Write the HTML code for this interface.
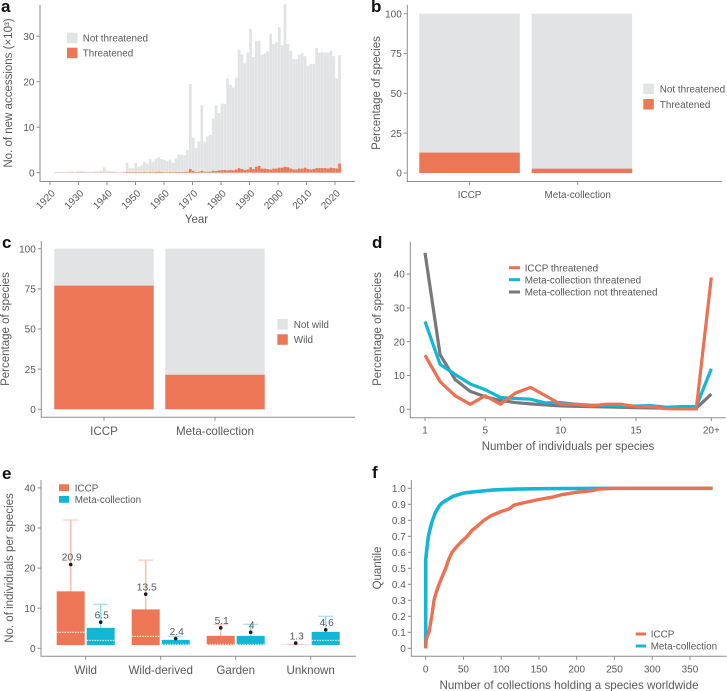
<!DOCTYPE html>
<html lang="en">
<head>
<meta charset="utf-8">
<title>Accessions and species charts</title>
<style>
html,body{margin:0;padding:0;background:#fff;}
svg{display:block;}
text{font-family:"Liberation Sans",sans-serif;fill:#58595b;}
</style>
</head>
<body>
<svg id="figure" xmlns="http://www.w3.org/2000/svg" width="727" height="691" viewBox="0 0 727 691"></svg>
<script>
// Panel a
const accessionYearStart = 1922;
const accessionTotals = [0.1,0.1,0.1,0.1,0.2,0.2,0.3,0.2,0.4,0.3,0.3,0.2,0.2,0.2,0.3,0.3,0.4,1.2,0.5,0.4,0.3,0.2,0.1,0.1,0.3,
2.2,1.0,1.0,2.1,1.3,1.6,2.4,2.0,3.0,2.3,3.0,3.4,3.0,2.8,2.5,2.9,2.2,3.1,4.0,3.9,3.8,5.0,19.5,7.7,5.4,6.8,14.8,6.8,8.0,8.3,11.9,14.8,13.1,15.2,15.1,20.7,19.3,18.7,20.9,27,26,24,26.4,31.6,25.4,28.9,29,25.9,26.2,26.7,30.5,28.3,28.7,32,28,37,28.3,26.8,25,25,25.9,26.3,25.6,23.5,23.9,23.9,27.4,26.3,26.5,26.4,26.3,26.8,25.6,20.7,25.8];
const accessionThreatened = [0.05,0.05,0.05,0.05,0.05,0.05,0.05,0.05,0.05,0.05,0.05,0.05,0.05,0.05,0.05,0.05,0.05,0.05,0.05,0.05,0.05,0.05,0.05,0.05,0.05,
0.15,0.1,0.1,0.15,0.1,0.1,0.15,0.1,0.15,0.1,0.15,0.2,0.15,0.1,0.1,0.15,0.1,0.15,0.15,0.15,0.15,0.2,0.8,0.4,0.15,0.2,0.4,0.2,0.2,0.2,0.4,0.35,0.5,0.55,0.6,0.5,0.6,0.5,0.7,1.0,0.8,0.6,0.7,1.2,0.8,1.3,1.5,0.9,0.9,0.8,0.7,0.9,0.9,1.1,1.1,1.3,1.2,0.9,0.7,0.7,0.9,0.9,1.1,0.8,0.7,0.8,1.0,1.0,1.0,1.0,0.9,1.1,1.0,0.9,2.0];
const accessionYearTicks = [1920,1930,1940,1950,1960,1970,1980,1990,2000,2010,2020];
const accessionValueTicks = [0,10,20,30];
// Panels b and c
const collections = ["ICCP","Meta-collection"];
const percentTicks = [0,25,50,75,100];
const threatenedPercent = [12.8,2.7];
const wildPercent = [77,21.5];
// Panel d
const individualsLabels = ["1","2","3","4","5","6","7","8","9","10","11","12","13","14","15","16","17","18","19","20+"];
const individualsTickLabels = ["1","5","10","15","20+"];
const individualsValueTicks = [0,10,20,30,40];
const iccpThreatened = [16,8.2,4,1.5,4,1.5,4.8,6.5,4,1.5,1.5,1,1.5,1.5,0.8,0.8,0.2,0.1,0.1,39];
const metaThreatened = [26,13.3,10.3,7.5,5.8,3.5,3.2,3,1.9,2,1.5,1.2,1.2,1,1,1.1,0.6,0.8,0.8,12];
const metaNotThreatened = [46.3,16.2,8.8,5.3,3.7,2.6,2,1.6,1.3,1,0.9,0.8,0.7,0.6,0.5,0.4,0.3,0.3,0.3,4.5];
// Panel e
const originCategories = ["Wild","Wild-derived","Garden","Unknown"];
const originValueTicks = [0,10,20,30,40];
const iccpQ1 = [0.8,0.8,0.8,0.8];
const iccpQ3 = [14.2,9.7,3.1,0.8];
const iccpMedian = [4,3,1,1];
const iccpWhisker = [32,22,6,1];
const iccpMean = [20.9,13.5,5.1,1.3];
const metaQ1 = [0.8,0.8,0.8,0.8];
const metaQ3 = [5.1,2.1,3.1,4.1];
const metaMedian = [2,1,1,2];
const metaWhisker = [11,3,6,8];
const metaMean = [6.5,2.4,4,4.6];
// Panel f
const quantileXTicks = [0,50,100,150,200,250,300,350];
const quantileYTicks = [0,0.1,0.2,0.3,0.4,0.5,0.6,0.7,0.8,0.9,1.0];
const iccpCollections = [0,0.5,2,4.4,8,11,14,17.7,22,26.5,30,35,40,47,55,62,70,77,87,100,110,117,130,150,168,180,200,220,230,250,380];
const iccpQuantiles = [0,0.05,0.075,0.1,0.2,0.3,0.35,0.4,0.45,0.5,0.55,0.6,0.63,0.665,0.7,0.74,0.77,0.8,0.83,0.855,0.87,0.895,0.91,0.93,0.945,0.96,0.975,0.985,0.995,1,1];
const metaCollections = [0,0,1,2,3.5,6,9,13,18,22,29,36,50,60,75,90,120,160,250,380];
const metaQuantiles = [0,0.55,0.6,0.64,0.7,0.75,0.8,0.85,0.89,0.91,0.93,0.95,0.97,0.976,0.983,0.99,0.995,0.998,1,1];

const NS = "http://www.w3.org/2000/svg";
const root = document.getElementById("figure");
const ORANGE = "#ed7656", GREY = "#e1e3e4", BLUE = "#14b6d6", DARK = "#77787c", AXIS = "#8c8d8f";

function make(tag, name, attrs, parent) {
  const el = document.createElementNS(NS, tag);
  
  
  for (const k in attrs) el.setAttribute(k, attrs[k]);
  (parent || root).appendChild(el);
  return el;
}
function rect(name, x, y, w, h, fill, parent) {
  return make("rect", name, {x: x, y: y, width: w, height: h, fill: fill}, parent);
}
function line(name, x1, y1, x2, y2, stroke, sw, extra, parent) {
  return make("line", name, Object.assign({x1: x1, y1: y1, x2: x2, y2: y2, stroke: stroke, "stroke-width": sw}, extra || {}), parent);
}
function label(name, str, x, y, size, anchor, extra, parent) {
  const el = make("text", name, Object.assign({x: x, y: y, "font-size": size, "text-anchor": anchor || "start"}, extra || {}), parent);
  el.textContent = str;
  return el;
}
function group(name) { return make("g", name, {}); }
function poly(name, xs, ys, stroke, sw, parent) {
  const pts = xs.map((x, i) => x.toFixed(2) + "," + ys[i].toFixed(2)).join(" ");
  return make("polyline", name, {points: pts, fill: "none", stroke: stroke, "stroke-width": sw, "stroke-linejoin": "miter"}, parent);
}
function axes(g, x0, yTop, yAxis, xEnd) {
  line("y-axis-line", x0, yTop, x0, yAxis + 0.5, AXIS, 1, null, g);
  line("x-axis-line", x0, yAxis, xEnd, yAxis, AXIS, 1, null, g);
}
function yTicks(g, ticks, x0, sy, fmt, size) {
  ticks.forEach(t => {
    line("y-tick", x0 - 3.5, sy(t), x0, sy(t), AXIS, 1, null, g);
    label("y-tick-label", fmt ? fmt(t) : String(t), x0 - 5.5, sy(t) + 3.6, size || 10, "end", null, g);
  });
}
function yTitle(g, str, x, y, size) {
  label("y-axis-title", str, x, y, size || 11.5, "middle", {transform: "rotate(-90 " + x + " " + y + ")"}, g);
}
function panelLetter(str, x, y) {
  label("panel-letter-" + str, str, x, y, 17, "start", {"font-weight": "bold", style: "fill:#111"});
}
function legendSwatch(g, x, y, w, h, fill, str, tx, size) {
  const e = make("g", "legend-entry", {}, g);
  rect("legend-swatch", x, y, w, h, fill, e);
  label("legend-label", str, tx, y + h / 2 + 3.6, size || 9.9, "start", null, e);
}
function legendLine(g, x1, x2, y, stroke, str, tx, size) {
  const e = make("g", "legend-entry", {}, g);
  line("legend-line", x1, y, x2, y, stroke, 3, null, e);
  label("legend-label", str, tx, y + 3.6, size || 9.9, "start", null, e);
}

/* ---------- panel a ---------- */
(function () {
  const g = group("panel-a");
  const sx = y => 50 + (y - 1920) * 2.85;
  const bx = y => 49.67 + (y - 1920) * 2.87;
  const sy = v => 172.7 - v * 4.55;
  accessionTotals.forEach((v, i) => {
    const yr = accessionYearStart + i;
    rect("bar-total-" + yr, bx(yr) - 1.35, sy(v), 2.7, sy(0) - sy(v), GREY, g);
  });
  accessionThreatened.forEach((v, i) => {
    const yr = accessionYearStart + i;
    rect("bar-threatened-" + yr, bx(yr) - 1.35, sy(v), 2.7, sy(0) - sy(v), ORANGE, g);
  });
  axes(g, 40, 5, 181.5, 355);
  yTicks(g, accessionValueTicks, 40, sy);
  accessionYearTicks.forEach(y => {
    line("x-tick", sx(y), 181.5, sx(y), 185, AXIS, 1, null, g);
    const tx = sx(y) - 5, ty = 203;
    label("x-tick-label", String(y), tx, ty, 10, "middle", {transform: "rotate(-45 " + tx + " " + (ty - 4) + ")"}, g);
  });
  label("x-axis-title", "Year", 196.5, 223, 11.5, "middle", null, g);
  yTitle(g, "No. of new accessions (×10³)", 12, 93);
  legendSwatch(g, 67, 32.7, 10.5, 10.5, GREY, "Not threatened", 82.7);
  legendSwatch(g, 67, 47.7, 10.5, 10.5, ORANGE, "Threatened", 82.7);
})();

/* ---------- panels b and c ---------- */
function stackedPanel(cfg) {
  const g = group(cfg.name);
  const sy = v => cfg.y0 - v * (cfg.y0 - cfg.y100) / 100;
  collections.forEach((c, i) => {
    const bx = cfg.barX[i], bw = cfg.barW;
    rect("bar-background-" + c.toLowerCase(), bx, sy(100), bw, sy(0) - sy(100), GREY, g);
    rect("bar-value-" + c.toLowerCase(), bx, sy(cfg.values[i]), bw, sy(0) - sy(cfg.values[i]), ORANGE, g);
    line("x-tick", cfg.ticks[i], cfg.axisY, cfg.ticks[i], cfg.axisY + 3.5, AXIS, 1, null, g);
    label("x-tick-label", c, cfg.ticks[i], cfg.axisY + cfg.labelDy, cfg.labelSize, "middle", null, g);
  });
  axes(g, cfg.x0, cfg.yTop, cfg.axisY, cfg.xEnd);
  yTicks(g, percentTicks, cfg.x0, sy);
  yTitle(g, "Percentage of species", cfg.titleX, cfg.titleY);
  legendSwatch(g, cfg.legX, cfg.legY[0], 10.5, 10.5, GREY, cfg.legend[0], cfg.legX + 16.5);
  legendSwatch(g, cfg.legX, cfg.legY[1], 10.5, 10.5, ORANGE, cfg.legend[1], cfg.legX + 16.5);
}
stackedPanel({name: "panel-b", values: threatenedPercent, y0: 173, y100: 13.7, barX: [419.3, 531.7], barW: 100.5,
  ticks: [469.5, 577.7], axisY: 181.5, labelDy: 16.5, labelSize: 9.9, x0: 407.3, yTop: 5, xEnd: 722, titleX: 380, titleY: 93,
  legX: 643.3, legY: [83.7, 99], legend: ["Not threatened", "Threatened"]});
stackedPanel({name: "panel-c", values: wildPercent, y0: 409.3, y100: 248.7, barX: [54.3, 165.3], barW: 99.4,
  ticks: [104, 215], axisY: 417.3, labelDy: 17.5, labelSize: 11.6, x0: 41.3, yTop: 241, xEnd: 355, titleX: 9, titleY: 329,
  legX: 277.3, legY: [319, 334.3], legend: ["Not wild", "Wild"]});

/* ---------- panel d ---------- */
(function () {
  const g = group("panel-d");
  const sx = i => 425 + i * 15.07;
  const sy = v => 409.3 - v * 3.38;
  axes(g, 410.3, 241.7, 417.7, 725.7);
  yTicks(g, individualsValueTicks, 410.3, sy);
  individualsTickLabels.forEach(t => {
    const x = sx(individualsLabels.indexOf(t));
    line("x-tick", x, 417.7, x, 421, AXIS, 1, null, g);
    label("x-tick-label", t, x, 433.5, 10, "middle", null, g);
  });
  label("x-axis-title", "Number of individuals per species", 568, 450, 11.5, "middle", null, g);
  yTitle(g, "Percentage of species", 381, 329);
  const xs = individualsLabels.map((_, i) => sx(i));
  poly("series-meta-collection-not-threatened", xs, metaNotThreatened.map(sy), DARK, 3.2, g);
  poly("series-meta-collection-threatened", xs, metaThreatened.map(sy), BLUE, 3.2, g);
  poly("series-iccp-threatened", xs, iccpThreatened.map(sy), "#ec7052", 3.2, g);
  legendLine(g, 509, 520, 267.7, "#ec7052", "ICCP threatened", 524.7);
  legendLine(g, 509, 520, 279.7, BLUE, "Meta-collection threatened", 524.7);
  legendLine(g, 509, 520, 292, DARK, "Meta-collection not threatened", 524.7);
})();

/* ---------- panel e ---------- */
(function () {
  const g = group("panel-e");
  const sx = i => 85.7 + i * 75;
  const sy = v => 648.3 - v * 4.01;
  function box(x, q1, q3, med, wh, mean, col, light, nm) {
    line("whisker-" + nm, x, sy(q3), x, sy(wh), light, 1.6, null, g);
    line("whisker-cap-" + nm, x - 7.5, sy(wh), x + 7.5, sy(wh), light, 1, null, g);
    if (q3 > q1) rect("box-" + nm, x - 14, sy(q3), 28, sy(q1) - sy(q3), col, g);
    line("median-" + nm, x - 14, sy(med), x + 14, sy(med), q3 > q1 ? "#fff" : light, 0.9, {"stroke-dasharray": "1.6 1"}, g);
    make("circle", "mean-dot-" + nm, {cx: x, cy: sy(mean), r: 1.8, fill: "#1a1a1a"}, g);
    label("mean-label-" + nm, String(mean), x + 1, sy(mean) - 3.8, 10.2, "middle", null, g);
  }
  originCategories.forEach((c, i) => {
    const k = c.toLowerCase();
    box(sx(i) - 15, iccpQ1[i], iccpQ3[i], iccpMedian[i], iccpWhisker[i], iccpMean[i], ORANGE, "#f8c1b1", "iccp-" + k);
    box(sx(i) + 15, metaQ1[i], metaQ3[i], metaMedian[i], metaWhisker[i], metaMean[i], BLUE, "#8fdcec", "meta-" + k);
    line("x-tick", sx(i), 656.3, sx(i), 659.8, AXIS, 1, null, g);
    label("x-tick-label", c, sx(i), 674, 11.6, "middle", null, g);
  });
  axes(g, 41, 480, 656.3, 356);
  yTicks(g, originValueTicks, 41, sy);
  yTitle(g, "No. of individuals per species", 13, 568);
  legendSwatch(g, 59, 484.3, 10, 6.8, ORANGE, "ICCP", 74.7);
  legendSwatch(g, 59, 496, 10, 6.8, BLUE, "Meta-collection", 74.7);
})();

/* ---------- panel f ---------- */
(function () {
  const g = group("panel-f");
  const sx = v => 425.7 + v * 0.755;
  const sy = v => 648.3 - v * 160;
  axes(g, 411.3, 480, 656.3, 726.7);
  yTicks(g, quantileYTicks, 411.3, sy, t => t === 0 ? "0" : t.toFixed(1));
  quantileXTicks.forEach(t => {
    line("x-tick", sx(t), 656.3, sx(t), 659.8, AXIS, 1, null, g);
    label("x-tick-label", String(t), sx(t), 672.5, 10, "middle", null, g);
  });
  label("x-axis-title", "Number of collections holding a species worldwide", 569, 689, 11.6, "middle", null, g);
  yTitle(g, "Quantile", 381, 568);
  poly("series-meta-collection", metaCollections.map(sx), metaQuantiles.map(sy), BLUE, 3.6, g);
  poly("series-iccp", iccpCollections.map(sx), iccpQuantiles.map(sy), "#ec7052", 3.4, g);
  legendLine(g, 635.7, 646, 634, "#ec7052", "ICCP", 650.7);
  legendLine(g, 635.7, 646, 646, BLUE, "Meta-collection", 650.7);
})();

panelLetter("a", 1, 12);
panelLetter("b", 371, 12);
panelLetter("c", 2, 248);
panelLetter("d", 372, 248);
panelLetter("e", 2, 479);
panelLetter("f", 372, 478);
</script>
</body>
</html>
